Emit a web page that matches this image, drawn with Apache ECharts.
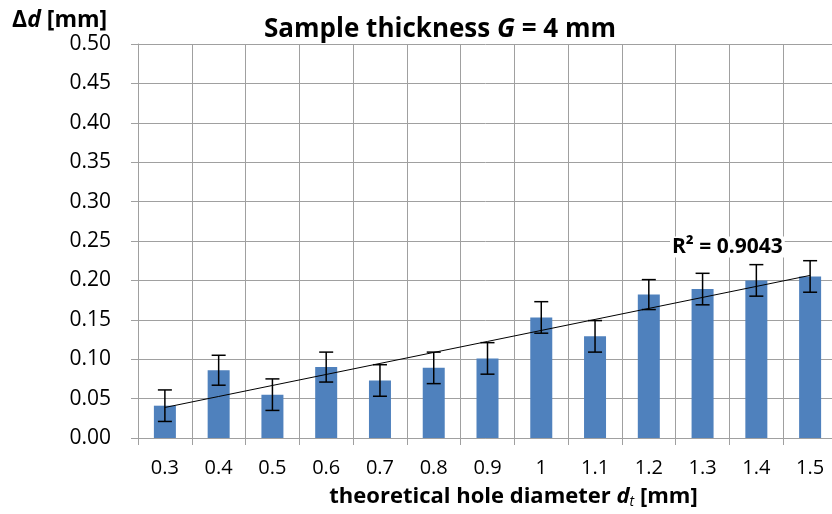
<!DOCTYPE html>
<html>
<head>
<meta charset="utf-8">
<script src="https://cdn.jsdelivr.net/npm/echarts@6/dist/echarts.min.js"></script>
<style>
  html, body { margin: 0; padding: 0; background: #fff; }
</style>
</head>
<body>
<div id="chart" style="width:832px;height:514px;"></div>
<script>
  // hole diameters (x categories)
  const categories = ['0.3', '0.4', '0.5', '0.6', '0.7', '0.8', '0.9', '1', '1.1', '1.2', '1.3', '1.4', '1.5']
  // mean deviation Δd [mm]
  const deltaD = [0.041, 0.086, 0.055, 0.090, 0.073, 0.089, 0.101, 0.153, 0.129, 0.182, 0.189, 0.200, 0.205]
  // error bar half heights
  const errors = [0.020, 0.019, 0.020, 0.019, 0.020, 0.020, 0.020, 0.020, 0.020, 0.019, 0.020, 0.020, 0.020]
  const r2Label = 'R² = 0.9043'

  const FONT = 'Open Sans'
  const GRID = '#a0a0a0'

  // linear trendline fitted to the bars (as the spreadsheet does)
  const n = deltaD.length
  const xMean = (n - 1) / 2
  const yMean = deltaD.reduce((a, b) => a + b, 0) / n
  let sxy = 0, sxx = 0
  deltaD.forEach((v, i) => { sxy += (i - xMean) * (v - yMean); sxx += (i - xMean) * (i - xMean) })
  const slope = sxy / sxx
  const trend = deltaD.map((v, i) => yMean + slope * (i - xMean))

  let chart = echarts.init(document.getElementById('chart'))
  chart.setOption({
    animation: false,
    textStyle: { fontFamily: FONT },
    grid: { left: 138, top: 44, width: 699, height: 394, outerBoundsMode: 'none', containLabel: false },
    graphic: [
      {
        type: 'text', x: 440, y: 30,
        style: {
          text: '{b|Sample thickness }{i|G}{b| = 4 mm}',
          align: 'center', verticalAlign: 'middle',
          rich: {
            b: { fontFamily: FONT, fontSize: 26, fontWeight: 'bold', fill: '#000' },
            i: { fontFamily: FONT, fontSize: 26, fontWeight: 'bold', fontStyle: 'italic', fill: '#000' }
          }
        }
      },
      {
        type: 'text', x: 12, y: 20,
        style: {
          text: '{b|Δ}{i|d}{b| [mm]}',
          verticalAlign: 'middle',
          rich: {
            b: { fontFamily: FONT, fontSize: 23, fontWeight: 'bold', fill: '#000' },
            i: { fontFamily: FONT, fontSize: 23, fontWeight: 'bold', fontStyle: 'italic', fill: '#000' }
          }
        }
      },
      {
        type: 'text', x: 670, y: 247, z: 100,
        style: {
          text: r2Label, verticalAlign: 'middle', fontFamily: FONT, fontSize: 21, fontWeight: 'bold', fill: '#000',
          backgroundColor: '#fff', padding: [0, 2]
        }
      }
    ],
    xAxis: {
      type: 'category',
      data: categories,
      axisLine: { lineStyle: { color: GRID } },
      axisTick: { show: true, length: 7, lineStyle: { color: GRID } },
      splitLine: { show: true, lineStyle: { color: GRID, width: 1 } },
      axisLabel: { color: '#000', fontSize: 20, margin: 20, fontFamily: FONT },
      name: '{b|theoretical hole diameter }{i|d}{s|t}{b| [mm]}',
      nameLocation: 'middle',
      nameGap: 47,
      nameTextStyle: {
        padding: [0, 0, 0, 52],
        rich: {
          b: { fontFamily: FONT, fontSize: 22, fontWeight: 'bold', color: '#000' },
          i: { fontFamily: FONT, fontSize: 22, fontWeight: 'bold', fontStyle: 'italic', color: '#000' },
          s: { fontFamily: FONT, fontSize: 14, fontStyle: 'italic', color: '#000', padding: [10, 0, 0, 0] }
        }
      }
    },
    yAxis: {
      type: 'value',
      min: 0,
      max: 0.5,
      interval: 0.05,
      axisLine: { show: true, lineStyle: { color: GRID } },
      axisTick: { show: true, length: 7, lineStyle: { color: GRID } },
      splitLine: { show: true, lineStyle: { color: GRID, width: 1 } },
      axisLabel: { color: '#000', fontSize: 21, margin: 27, fontFamily: FONT, formatter: v => v.toFixed(2) }
    },
    series: [
      {
        type: 'bar',
        data: deltaD,
        barWidth: 22,
        itemStyle: { color: '#4f81bd' }
      },
      {
        type: 'custom',
        data: deltaD.map((v, i) => [i, v, errors[i]]),
        z: 5,
        renderItem: function (params, api) {
          let x = api.value(0)
          let y = api.value(1)
          let e = api.value(2)
          let hi = api.coord([x, y + e])
          let lo = api.coord([x, y - e])
          let half = 7
          let st = { stroke: '#000', lineWidth: 1.5 }
          return {
            type: 'group',
            children: [
              { type: 'line', shape: { x1: hi[0], y1: hi[1], x2: lo[0], y2: lo[1] }, style: st },
              { type: 'line', shape: { x1: hi[0] - half, y1: hi[1], x2: hi[0] + half, y2: hi[1] }, style: st },
              { type: 'line', shape: { x1: lo[0] - half, y1: lo[1], x2: lo[0] + half, y2: lo[1] }, style: st }
            ]
          }
        }
      },
      {
        type: 'line',
        data: trend,
        symbol: 'none',
        z: 6,
        lineStyle: { color: '#000', width: 1 }
      }
    ]
  })
</script>
</body>
</html>
